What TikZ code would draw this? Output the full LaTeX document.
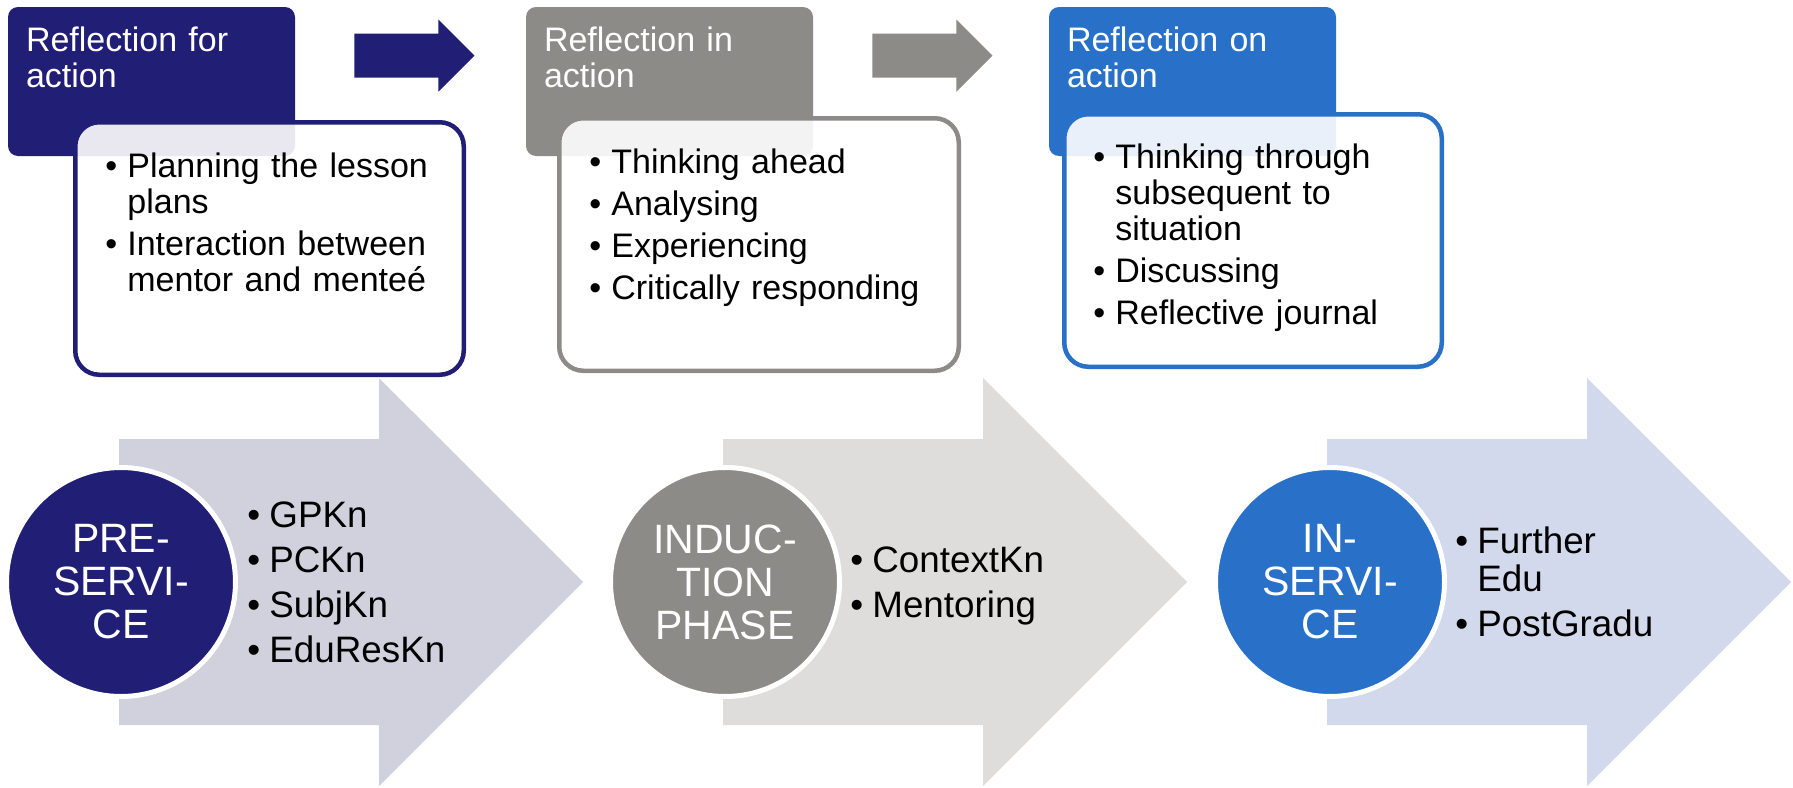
\documentclass[tikz,border=0pt]{standalone}
\usepackage{fontspec}
\setmainfont{Liberation Sans}
\usepackage{tikz}
\usetikzlibrary{calc,shapes,arrows}
\definecolor{navy}{RGB}{33,30,117}
\definecolor{stone}{RGB}{140,139,135}
\definecolor{royal}{RGB}{40,112,200}
\definecolor{navylight}{RGB}{208,209,220}
\definecolor{stonelight}{RGB}{222,221,219}
\definecolor{royallight}{RGB}{211,217,236}
\newlength{\itemgap}
\newcommand{\bul}[1]{\ifvmode\vspace{\itemgap}\fi\hangindent=11pt\hangafter=1\makebox[11pt][l]{\textbullet}#1\par}

\begin{document}
\begin{tikzpicture}[x=0.5pt,y=-0.5pt,
                    headbox/.style={rectangle,rounded corners=5pt,minimum width=143.5pt,minimum height=74.5pt,inner sep=0pt},
                    notebox/.style={rectangle,rounded corners=12pt,line width=2.25pt,fill=white,fill opacity=0.9,minimum height=126.25pt,inner sep=0pt},
                    headtext/.style={text=white,text width=135pt,align=left,inner sep=0pt,font=\fontsize{17}{18}\selectfont},
                    notelist/.style={text width=190pt,align=left,inner sep=0pt,font=\fontsize{17}{18}\selectfont\setlength{\itemgap}{3pt}},
                    phase/.style={circle,draw=white,line width=2.5pt,minimum size=114.5pt,inner sep=0pt,text=white,align=center,font=\fontsize{20.5}{21.5}\selectfont},
                    knlist/.style={text width=150pt,align=left,inner sep=0pt,font=\fontsize{18.4}{19}\selectfont\setlength{\itemgap}{3.5pt}}]
\useasboundingbox (0,0) rectangle (1793,787);
%
% reflection headers
\node[headbox,fill=navy]  (hA) at (151.5,81.5)  {};
\node[headbox,fill=stone] (hB) at (669.5,81.5)  {};
\node[headbox,fill=royal] (hC) at (1192.5,81.5) {};
\node[headtext,anchor=base west] (tA) at ([shift={(18,45)}]hA.north west) {Reflection for\\action};
\node[headtext,anchor=base west] (tB) at ([shift={(18,45)}]hB.north west) {Reflection in\\action};
\node[headtext,anchor=base west] (tC) at ([shift={(18,45)}]hC.north west) {Reflection on\\action};
%
\fill[navy]  ($ (hA.north east) + (59,27) $) -- ++(84,0) -- ++(0,-14) -- ++(36,36) -- ++(-36,36) -- ++(0,-14) -- ++(-84,0) -- cycle;
\fill[stone] ($ (hB.north east) + (59,27) $) -- ++(84,0) -- ++(0,-14) -- ++(36,36) -- ++(-36,36) -- ++(0,-14) -- ++(-84,0) -- cycle;
%
% notes
\node[notebox,draw=navy,minimum width=194.25pt]  (wA) at (269.5,248.5) {};
\node[notebox,draw=stone,minimum width=199.75pt] (wB) at (759,244.5)   {};
\node[notebox,draw=royal,minimum width=188.75pt] (wC) at (1253,240.5)  {};
\node[notelist,anchor=base west] (lA) at ([shift={(32,57)}]wA.north west)
  {\bul{Planning the lesson\newline plans}\bul{Interaction between\newline mentor and menteé}};
\node[notelist,anchor=base west] (lB) at ([shift={(32,57)}]wB.north west)
  {\bul{Thinking ahead}\bul{Analysing}\bul{Experiencing}\bul{Critically responding}};
\node[notelist,anchor=base west] (lC) at ([shift={(31,56)}]wC.north west)
  {\bul{Thinking through\newline subsequent to\newline situation}\bul{Discussing}\bul{Reflective journal}};
%
% phase arrows
\fill[navylight]  (119,439)  -- ++(260,0) -- ++(0,-61) -- ++(204,204) -- ++(-204,204) -- ++(0,-61) -- ++(-260,0) -- cycle;
\fill[stonelight] (723,439)  -- ++(260,0) -- ++(0,-61) -- ++(204,204) -- ++(-204,204) -- ++(0,-61) -- ++(-260,0) -- cycle;
\fill[royallight] (1327,439) -- ++(260,0) -- ++(0,-61) -- ++(204,204) -- ++(-204,204) -- ++(0,-61) -- ++(-260,0) -- cycle;
%
\node[phase,fill=navy]  (pre) at (121,582)  {PRE-\\SERVI-\\CE};
\node[phase,fill=stone] (ind) at (725,582)  {INDUC-\\TION\\PHASE};
\node[phase,fill=royal] (ins) at (1330,582) {IN-\\SERVI-\\CE};
%
\node[knlist,anchor=base west] (kA) at ($ (pre) + (126,-55) $) {\bul{GPKn}\bul{PCKn}\bul{SubjKn}\bul{EduResKn}};
\node[knlist,anchor=base west] (kB) at ($ (ind) + (125,-10) $) {\bul{ContextKn}\bul{Mentoring}};
\node[knlist,anchor=base west] (kC) at ($ (ins) + (125,-29) $) {\bul{Further\newline Edu}\bul{PostGradu}};
\end{tikzpicture}
\end{document}
